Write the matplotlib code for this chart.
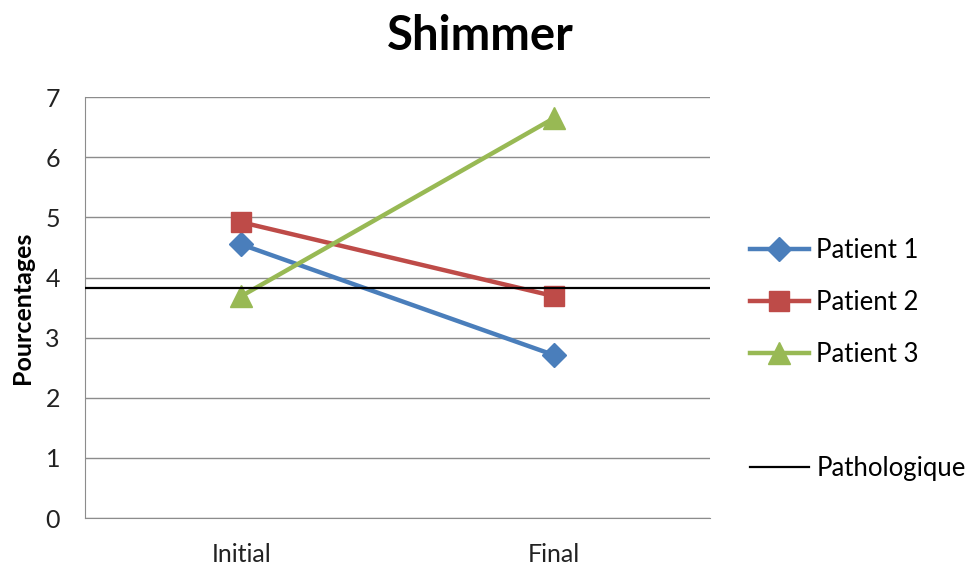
import matplotlib
matplotlib.use("Agg")
import matplotlib.pyplot as plt
from matplotlib.lines import Line2D

plt.rcParams['font.family'] = ['Lato', 'DejaVu Sans']

# data
categories = ["Initial", "Final"]
patient1 = [4.55, 2.71]
patient2 = [4.92, 3.69]
patient3 = [3.69, 6.65]
pathologique = 3.82

fig = plt.figure(figsize=(9.71, 5.68), dpi=100)
ax = fig.add_axes([0.0875, 0.088, 0.644, 0.741])

x = [0.5, 1.5]
ax.plot(x, patient1, color='#4A7EBB', lw=3.2, marker='D', ms=12, label='Patient 1', zorder=3)
ax.plot(x, patient2, color='#BE4B48', lw=3.2, marker='s', ms=14, label='Patient 2', zorder=3)
ax.plot(x, patient3, color='#98B954', lw=3.2, marker='^', ms=16, label='Patient 3', zorder=3)
ax.axhline(pathologique, color='black', lw=1.6, zorder=4)

ax.set_xlim(0, 2)
ax.set_ylim(0, 7)
ax.set_xticks(x)
ax.set_xticklabels(categories)
ax.set_yticks(range(8))
ax.yaxis.grid(True, color='#8C8C8C', lw=1)
ax.set_axisbelow(True)
ax.tick_params(length=0, labelsize=18, colors='#222222')
ax.tick_params(axis='y', pad=18)
ax.tick_params(axis='x', pad=18)
for s in ['top', 'right']:
    ax.spines[s].set_visible(False)
ax.spines['left'].set_color('#8C8C8C')
ax.spines['bottom'].set_color('#8C8C8C')

ax.set_ylabel('Pourcentages', fontsize=18, fontweight='bold', labelpad=8)
fig.suptitle('Shimmer', fontsize=34, fontweight='bold', x=0.495, y=0.975)

h, l = ax.get_legend_handles_labels()
fig.legend(h, l, loc='center left', bbox_to_anchor=(0.772, 0.468), frameon=False,
           fontsize=18.5, handlelength=2.3, labelspacing=1.05, handletextpad=0.3,
           borderpad=0, borderaxespad=0)
path = Line2D([], [], color='black', lw=1.6)
fig.legend([path], ['Pathologique'], loc='center left', bbox_to_anchor=(0.772, 0.176),
           frameon=False, fontsize=18.5, handlelength=2.3, handletextpad=0.3,
           borderpad=0, borderaxespad=0)

fig.savefig('out.png', dpi=100)
